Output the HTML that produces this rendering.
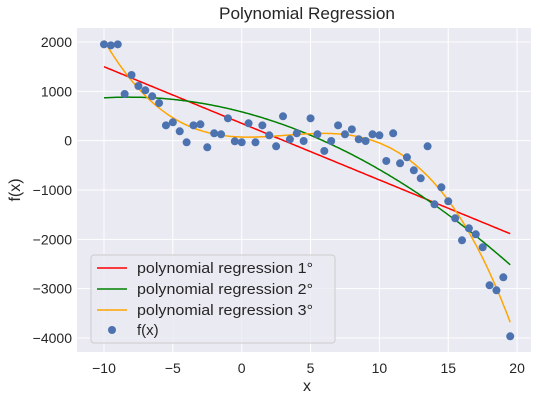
<!DOCTYPE html>
<html><head><meta charset="utf-8"><style>
body{margin:0;background:#fff;}
svg text{font-family:"Liberation Sans","DejaVu Sans",sans-serif;fill:#262626;}
</style></head><body>
<svg id="chart" width="537" height="401" xmlns="http://www.w3.org/2000/svg">
<rect x="0" y="0" width="537" height="401" fill="#fff"/>
<rect x="77" y="28" width="454" height="324" fill="#eaeaf2"/>
<g id="grid"></g>
<g id="ticks"></g>
<g id="lines"></g>
<g id="pts"></g>
<text x="219" y="19" font-size="17" textLength="176" lengthAdjust="spacingAndGlyphs">Polynomial Regression</text>
<text x="307" y="391" text-anchor="middle" font-size="16">x</text>
<text transform="translate(20,190) rotate(-90)" text-anchor="middle" font-size="16">f(x)</text>
<g>
<rect x="91" y="255" width="244" height="88" rx="3" fill="#eaeaf2" fill-opacity="0.8" stroke="#ccc"/>
<line x1="97" y1="268" x2="127" y2="268" stroke="red" stroke-width="1.5"/>
<text x="137" y="273" font-size="15" textLength="176" lengthAdjust="spacingAndGlyphs">polynomial regression 1°</text>
<line x1="97" y1="289" x2="127" y2="289" stroke="green" stroke-width="1.5"/>
<text x="137" y="294" font-size="15" textLength="176" lengthAdjust="spacingAndGlyphs">polynomial regression 2°</text>
<line x1="97" y1="310" x2="127" y2="310" stroke="orange" stroke-width="1.5"/>
<text x="137" y="315" font-size="15" textLength="176" lengthAdjust="spacingAndGlyphs">polynomial regression 3°</text>
<circle cx="112" cy="330" r="4" fill="#4c72b0"/>
<text x="137" y="335" font-size="15">f(x)</text>
</g>
</svg>
<script>
const xStart = -10, xStep = 0.5;
const yValues = [1953,1932,1953,946,1331,1108,1021,899,763,311,372,190,-33,311,332,-134,149,129,453,-13,-33,352,-33,311,109,-114,494,28,149,-7,453,129,-209,-7,311,129,230,28,-7,129,109,-412,149,-459,-337,-601,-763,-114,-1290,-945,-1229,-1574,-2020,-1776,-1898,-2162,-2932,-3033,-2770,-3966];
const xTicks = [-10,-5,0,5,10,15,20];
const yTicks = [2000,1000,0,-1000,-2000,-3000,-4000];
const degrees = [1,2,3];
const colors = ['red','green','orange'];
const xs = yValues.map((v,i)=>xStart+i*xStep);
const X = x => 104 + (x+10)*13.77;
const Y = y => 42 + (2000-y)*0.04933;
const NS='http://www.w3.org/2000/svg';
function mk(t,a,p){const e=document.createElementNS(NS,t);for(const k in a)e.setAttribute(k,a[k]);p.appendChild(e);return e;}
const grid=document.getElementById('grid'),ticks=document.getElementById('ticks');
xTicks.forEach(t=>{
  const l=mk('line',{x1:X(t),x2:X(t),y1:28,y2:352,stroke:'#fff','stroke-width':1},grid);
  
  
  const tx=mk('text',{x:X(t),y:373,'text-anchor':'middle','font-size':14},ticks);tx.textContent=t<0?'\u2212'+(-t):t;
  
  
});
yTicks.forEach(t=>{
  const l=mk('line',{x1:77,x2:531,y1:Y(t),y2:Y(t),stroke:'#fff','stroke-width':1},grid);
  
  
  const tx=mk('text',{x:72,y:Y(t)+5,'text-anchor':'end','font-size':14},ticks);tx.textContent=t<0?'\u2212'+(-t):t;
  
  
});
function fit(d){
  const n=d+1,A=[];for(let i=0;i<n;i++){A.push(new Array(n+1).fill(0));}
  xs.forEach((x,k)=>{for(let i=0;i<n;i++){for(let j=0;j<n;j++)A[i][j]+=Math.pow(x,i+j);A[i][n]+=yValues[k]*Math.pow(x,i);}});
  for(let i=0;i<n;i++){let p=i;for(let r=i+1;r<n;r++)if(Math.abs(A[r][i])>Math.abs(A[p][i]))p=r;[A[i],A[p]]=[A[p],A[i]];
    for(let r=0;r<n;r++){if(r===i)continue;const f=A[r][i]/A[i][i];for(let c=i;c<=n;c++)A[r][c]-=f*A[i][c];}}
  return A.map((r,i)=>r[n]/r[i]);
}
const lines=document.getElementById('lines');
degrees.forEach((d,di)=>{
  const c=fit(d);let pts=[];
  for(let x=xs[0];x<=xs[xs.length-1]+1e-9;x+=0.1){let y=0;c.forEach((ci,i)=>y+=ci*Math.pow(x,i));pts.push(X(x).toFixed(1)+','+Y(y).toFixed(1));}
  const p=mk('polyline',{points:pts.join(' '),fill:'none',stroke:colors[di],'stroke-width':1.5},lines);
  
  
});
const pg=document.getElementById('pts');
yValues.forEach((v,i)=>{
  const c=mk('circle',{cx:X(xs[i]),cy:Y(v),r:4,fill:'#4c72b0'},pg);
  
  
});
</script>
</body></html>
